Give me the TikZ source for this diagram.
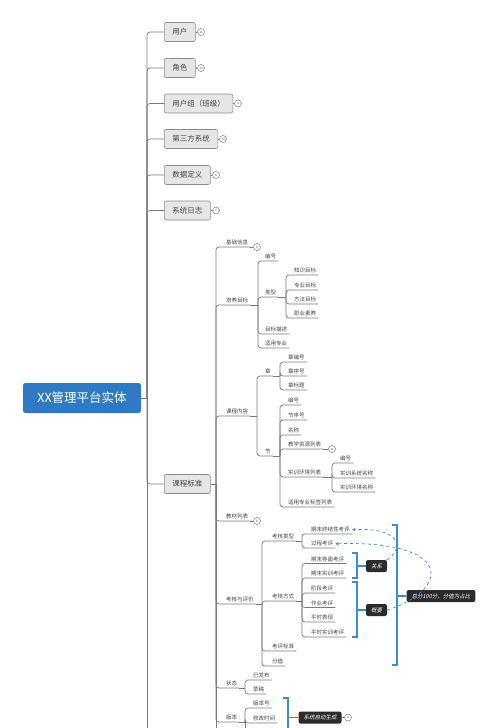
\documentclass[tikz,border=0pt]{standalone}
\usepackage{fontspec}
\setmainfont{Noto Sans CJK SC}
\newfontfamily\tagfont[FakeSlant=0.2]{Noto Sans CJK SC}
\usetikzlibrary{arrows.meta}
\definecolor{lnc}{HTML}{7A7A7A}
\definecolor{boxfill}{HTML}{E6E6E6}
\definecolor{boxdraw}{HTML}{8C8C8C}
\definecolor{rootblue}{HTML}{2F7BC3}
\definecolor{brk}{HTML}{3D8EC4}
\definecolor{tagc}{HTML}{2B2B2B}
\definecolor{txt}{HTML}{444444}
\begin{document}
\begin{tikzpicture}[x=1pt,y=-1pt,
  conn/.style={draw=lnc, line width=0.7pt, rounded corners=3pt},
  topbox/.style={draw=boxdraw, fill=boxfill, rounded corners=2pt, line width=0.6pt, font=\fontsize{7.5}{8}\selectfont, text=txt, minimum height=19pt, inner xsep=8pt, anchor=west},
  rootbox/.style={fill=rootblue, rounded corners=2.5pt, text=white, font=\fontsize{12.5}{13}\selectfont, minimum width=118pt, minimum height=30pt},
  lbl/.style={font=\fontsize{5.5}{6}\selectfont, text=txt, inner xsep=2pt, inner ysep=1.5pt, anchor=south west},
  num/.style={circle, draw=lnc, line width=0.5pt, minimum size=7pt, inner sep=0pt, font=\fontsize{3}{3}\selectfont, text=txt},
  tag/.style={fill=tagc, rounded corners=2pt, text=white, font=\fontsize{5.5}{6}\tagfont, inner xsep=5pt, minimum height=12pt},
  brace/.style={draw=brk, line width=1.1pt},
  rel/.style={draw=brk, line width=0.7pt, dashed, -{Stealth[length=3.5pt,width=3.5pt]}}
]
\clip (0,0) rectangle (499,728);
\fill[white] (0,0) rectangle (499,728);

% root and trunk
\node[rootbox] (root) at (82,398) {XX管理平台实体};
\coordinate (t) at (147,398);
\coordinate (tEnd) at (147,740);
\draw[conn] (root.east) -- (t);
\draw[conn] (t) -- (tEnd);

% level 1
\node[topbox] (yh) at (164,32) {用户};
\node[topbox] (js) at (164,68) {角色};
\node[topbox] (yhz) at (164,103.5) {用户组（班级）};
\node[topbox] (dsf) at (164,139) {第三方系统};
\node[topbox] (sjdy) at (164,175) {数据定义};
\node[topbox] (xtrz) at (164,210.5) {系统日志};
\node[topbox] (kcbz) at (164,484) {课程标准};
\foreach \n in {yh,js,yhz,dsf,sjdy,xtrz,kcbz} \draw[conn] (t) |- (\n.west);

\node[num] (n1) at (201,32) {11};
\node[num] (n2) at (201,68) {10};
\node[num] (n3) at (238,103.5) {4};
\node[num] (n4) at (223,139) {10};
\node[num] (n5) at (216,175) {6};
\node[num] (n6) at (216,210.5) {7};
\draw[conn] (yh.east) -- (n1.west);
\draw[conn] (js.east) -- (n2.west);
\draw[conn] (yhz.east) -- (n3.west);
\draw[conn] (dsf.east) -- (n4.west);
\draw[conn] (sjdy.east) -- (n5.west);
\draw[conn] (xtrz.east) -- (n6.west);

% level 2 under 课程标准
\coordinate (b0) at (216,484);
\coordinate (b0End) at (216,740);
\draw[conn] (kcbz.east) -- (b0);
\draw[conn] (b0) -- (b0End);
\node[lbl] (jcxx) at (224,247) {基础信息};
\node[lbl] (pymb) at (224,305) {培养目标};
\node[lbl] (kcnr) at (224,416) {课程内容};
\node[lbl] (jclb) at (224,521) {教材列表};
\node[lbl] (khpj) at (224,604) {考核与评价};
\node[lbl] (zt) at (224,688) {状态};
\node[lbl] (bb) at (224,722) {版本};
\foreach \n in {jcxx,pymb,kcnr,jclb,khpj,zt,bb} \draw[conn] (b0) |- (\n.south east);
\node[num] (n7) at (257,247) {5};
\draw[conn] (jcxx.south east) -- (n7.west);
\node[num] (n8) at (257,521) {6};
\draw[conn] (jclb.south east) -- (n8.west);

% 培养目标
\coordinate (b1) at (258,305);
\draw[conn] (pymb.south east) -- (b1);
\node[lbl] (p1) at (263,261) {编号};
\node[lbl] (p2) at (263,297) {类型};
\node[lbl] (p3) at (263,334) {目标描述};
\node[lbl] (p4) at (263,348) {适用专业};
\foreach \n in {p1,p2,p3,p4} \draw[conn] (b1) |- (\n.south east);
\coordinate (b2) at (286,297);
\draw[conn] (p2.south east) -- (b2);
\node[lbl] (l1) at (292,275) {知识目标};
\node[lbl] (l2) at (292,290) {专业目标};
\node[lbl] (l3) at (292,304) {方法目标};
\node[lbl] (l4) at (292,318) {职业素养};
\foreach \n in {l1,l2,l3,l4} \draw[conn] (b2) |- (\n.south east);

% 课程内容
\coordinate (b3) at (257,416);
\draw[conn] (kcnr.south east) -- (b3);
\node[lbl] (zh) at (263,376) {章};
\node[lbl] (jie) at (263,456) {节};
\foreach \n in {zh,jie} \draw[conn] (b3) |- (\n.south east);
\coordinate (b4) at (280,376);
\draw[conn] (zh.south east) -- (b4);
\node[lbl] (z1) at (286,362) {章编号};
\node[lbl] (z2) at (286,376) {章序号};
\node[lbl] (z3) at (286,390) {章标题};
\foreach \n in {z1,z2,z3} \draw[conn] (b4) |- (\n.south east);
\coordinate (b5) at (280,456);
\draw[conn] (jie.south east) -- (b5);
\node[lbl] (j1) at (286,405) {编号};
\node[lbl] (j2) at (286,420) {节序号};
\node[lbl] (j3) at (286,435) {名称};
\node[lbl] (j4) at (286,449) {教学资源列表};
\node[lbl] (j5) at (286,477) {实训环境列表};
\node[lbl] (j6) at (286,507) {适用专业标签列表};
\foreach \n in {j1,j2,j3,j4,j5,j6} \draw[conn] (b5) |- (\n.south east);
\node[num] (n9) at (332,449) {11};
\draw[conn] (j4.south east) -- (n9.west);
\coordinate (b6) at (332,477);
\draw[conn] (j5.south east) -- (b6);
\node[lbl] (s1) at (338,463) {编号};
\node[lbl] (s2) at (338,478) {实训系统名称};
\node[lbl] (s3) at (338,492) {实训环境名称};
\foreach \n in {s1,s2,s3} \draw[conn] (b6) |- (\n.south east);

% 考核与评价
\coordinate (b7) at (262,604);
\draw[conn] (khpj.south east) -- (b7);
\node[lbl] (k1) at (270,541) {考核类型};
\node[lbl] (k2) at (270,601) {考核方式};
\node[lbl] (k3) at (270,651) {考评标准};
\node[lbl] (k4) at (270,666) {分值};
\foreach \n in {k1,k2,k3,k4} \draw[conn] (b7) |- (\n.south east);
\coordinate (b8) at (302,541);
\draw[conn] (k1.south east) -- (b8);
\node[lbl] (q1) at (309,534) {期末终结性考评};
\node[lbl] (q2) at (309,548) {过程考评};
\foreach \n in {q1,q2} \draw[conn] (b8) |- (\n.south east);
\coordinate (b9) at (302,601);
\draw[conn] (k2.south east) -- (b9);
\node[lbl] (f1) at (309,563.5) {期末卷面考评};
\node[lbl] (f2) at (309,578) {期末实训考评};
\node[lbl] (f3) at (309,593) {阶段考评};
\node[lbl] (f4) at (309,607.5) {作业考评};
\node[lbl] (f5) at (309,622) {平时表现};
\node[lbl] (f6) at (309,637) {平时实训考评};
\foreach \n in {f1,f2,f3,f4,f5,f6} \draw[conn] (b9) |- (\n.south east);

% 状态 / 版本
\coordinate (b10) at (245,688);
\draw[conn] (zt.south east) -- (b10);
\node[lbl] (t1) at (251,680) {已发布};
\node[lbl] (t2) at (251,694) {草稿};
\foreach \n in {t1,t2} \draw[conn] (b10) |- (\n.south east);
\coordinate (b11) at (245,722);
\coordinate (b11End) at (245,740);
\draw[conn] (bb.south east) -- (b11);
\node[lbl] (v1) at (251,708) {版本号};
\node[lbl] (v2) at (251,723) {修改时间};
\foreach \n in {v1,v2} \draw[conn] (b11) |- (\n.south east);
\draw[conn] (b11) -- (b11End);

% summaries
\node[tag] (zf) at (441,596) {总分100分，分值为占比};
\node[tag] (gx) at (376.5,566) {关系};
\node[tag] (gy) at (376.5,610) {概要};
\node[tag] (zd) at (320,717.5) {系统自动生成};
\node[num] (n10) at (348,717.5) {2};
\draw[conn] (zd.east) -- (n10.west);

\draw[brace] (392,525) -- (397,525) -- (397,665) -- (392,665);
\draw[brace] (397,596) -- (zf.west);
\draw[brace] (352,553) -- (357,553) -- (357,578) -- (352,578);
\draw[brace] (357,566) -- (gx.west);
\draw[brace] (352,582) -- (357,582) -- (357,637) -- (352,637);
\draw[brace] (357,610) -- (gy.west);
\draw[brace] (283,698) -- (288,698) -- (288,740);
\draw[brace] (288,717.5) -- (zd.west);

% relationships
\draw[rel] (gx.north east) .. controls (405,548) and (400,527) .. (q1.east);
\draw[rel] (gy.east) .. controls (450,590) and (455,540) .. (q2.east);
\end{tikzpicture}
\end{document}
